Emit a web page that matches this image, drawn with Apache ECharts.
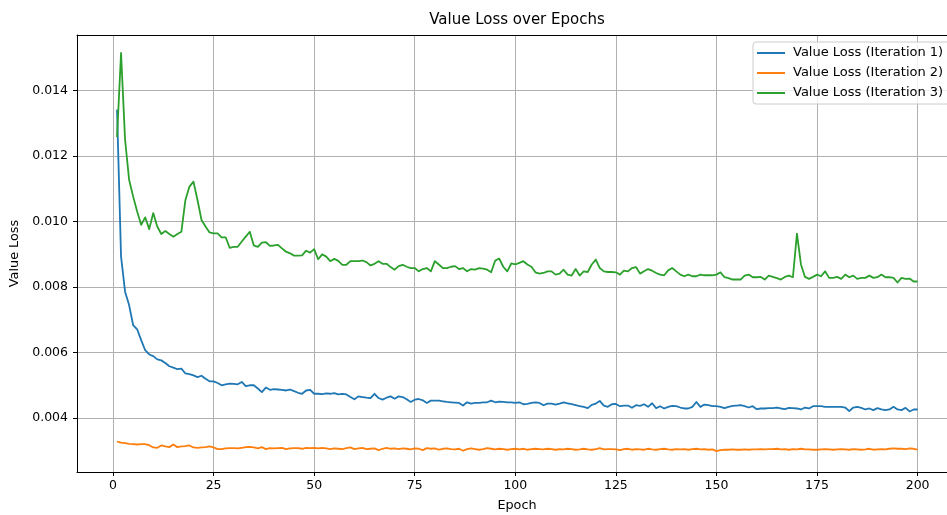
<!DOCTYPE html>
<html>
<head>
  <meta charset="utf-8">
  <title>Value Loss over Epochs</title>
  <script src="https://cdn.jsdelivr.net/npm/echarts@6/dist/echarts.min.js"></script>
</head>
<body style="margin:0;background:#fff;">
  <div id="chart" style="width: 947px; height: 515px;"></div>

  <script>
    // values
    const lossIter1 = [
      0.01342, 0.00893, 0.00786, 0.00745, 0.00684, 0.00671, 0.00638, 0.00607, 0.00594, 0.00589,
      0.00579, 0.00576, 0.00568, 0.00558, 0.00554, 0.00549, 0.00551, 0.00536, 0.00534, 0.00530,
      0.00525, 0.00529, 0.00520, 0.00512, 0.00512, 0.00507, 0.00500, 0.00503, 0.00505, 0.00504,
      0.00503, 0.00510, 0.00497, 0.00500, 0.00500, 0.00490, 0.00479, 0.00493, 0.00486, 0.00488,
      0.00487, 0.00486, 0.00484, 0.00487, 0.00482, 0.00477, 0.00474, 0.00484, 0.00486, 0.00474,
      0.00474, 0.00473, 0.00475, 0.00474, 0.00476, 0.00472, 0.00474, 0.00472, 0.00464, 0.00457,
      0.00466, 0.00464, 0.00462, 0.00461, 0.00474, 0.00461, 0.00456, 0.00462, 0.00466, 0.00459,
      0.00466, 0.00464, 0.00457, 0.00449, 0.00456, 0.00458, 0.00454, 0.00446, 0.00453, 0.00453,
      0.00453, 0.00451, 0.00449, 0.00448, 0.00447, 0.00446, 0.00438, 0.00448, 0.00444, 0.00446,
      0.00446, 0.00448, 0.00448, 0.00453, 0.00448, 0.00450, 0.00449, 0.00448, 0.00448, 0.00446,
      0.00448, 0.00442, 0.00443, 0.00446, 0.00448, 0.00446, 0.00439, 0.00444, 0.00444, 0.00441,
      0.00444, 0.00448, 0.00445, 0.00442, 0.00439, 0.00436, 0.00434, 0.00430, 0.00440, 0.00444,
      0.00452, 0.00438, 0.00434, 0.00442, 0.00443, 0.00436, 0.00438, 0.00438, 0.00431, 0.00439,
      0.00437, 0.00442, 0.00434, 0.00445, 0.00430, 0.00436, 0.00429, 0.00434, 0.00437, 0.00436,
      0.00432, 0.00429, 0.00429, 0.00434, 0.00449, 0.00434, 0.00441, 0.00439, 0.00436, 0.00436,
      0.00434, 0.00430, 0.00434, 0.00437, 0.00438, 0.00439, 0.00436, 0.00432, 0.00436, 0.00427,
      0.00429, 0.00429, 0.00430, 0.00430, 0.00432, 0.00429, 0.00427, 0.00431, 0.00430, 0.00429,
      0.00426, 0.00432, 0.00429, 0.00436, 0.00436, 0.00436, 0.00434, 0.00434, 0.00434, 0.00434,
      0.00434, 0.00432, 0.00421, 0.00432, 0.00434, 0.00431, 0.00426, 0.00429, 0.00424, 0.00430,
      0.00426, 0.00424, 0.00426, 0.00434, 0.00426, 0.00424, 0.00431, 0.00420, 0.00426, 0.00426
    ];
    const lossIter2 = [
      0.00328, 0.00325, 0.00323, 0.00321, 0.00320, 0.00319, 0.00320, 0.00320, 0.00317, 0.00310,
      0.00309, 0.00316, 0.00313, 0.00311, 0.00319, 0.00311, 0.00313, 0.00314, 0.00316, 0.00310,
      0.00309, 0.00310, 0.00311, 0.00313, 0.00310, 0.00305, 0.00305, 0.00307, 0.00308, 0.00308,
      0.00307, 0.00309, 0.00311, 0.00312, 0.00310, 0.00307, 0.00311, 0.00305, 0.00308, 0.00307,
      0.00308, 0.00309, 0.00305, 0.00307, 0.00308, 0.00308, 0.00306, 0.00309, 0.00308, 0.00309,
      0.00307, 0.00309, 0.00307, 0.00305, 0.00307, 0.00306, 0.00305, 0.00308, 0.00310, 0.00305,
      0.00307, 0.00309, 0.00305, 0.00306, 0.00307, 0.00302, 0.00306, 0.00309, 0.00306, 0.00307,
      0.00305, 0.00307, 0.00306, 0.00304, 0.00307, 0.00306, 0.00302, 0.00308, 0.00306, 0.00307,
      0.00303, 0.00306, 0.00307, 0.00305, 0.00304, 0.00306, 0.00300, 0.00305, 0.00307, 0.00305,
      0.00303, 0.00305, 0.00308, 0.00306, 0.00304, 0.00306, 0.00305, 0.00303, 0.00305, 0.00306,
      0.00304, 0.00306, 0.00303, 0.00305, 0.00306, 0.00305, 0.00304, 0.00306, 0.00305, 0.00303,
      0.00305, 0.00304, 0.00306, 0.00305, 0.00303, 0.00304, 0.00306, 0.00304, 0.00303, 0.00305,
      0.00308, 0.00304, 0.00305, 0.00305, 0.00304, 0.00302, 0.00305, 0.00306, 0.00303, 0.00305,
      0.00304, 0.00303, 0.00306, 0.00304, 0.00303, 0.00305, 0.00306, 0.00304, 0.00303, 0.00305,
      0.00304, 0.00305, 0.00303, 0.00305, 0.00306, 0.00304, 0.00305, 0.00303, 0.00304, 0.00299,
      0.00302, 0.00303, 0.00303, 0.00304, 0.00303, 0.00303, 0.00304, 0.00303, 0.00304, 0.00304,
      0.00305, 0.00304, 0.00305, 0.00305, 0.00306, 0.00304, 0.00305, 0.00303, 0.00305, 0.00304,
      0.00306, 0.00304, 0.00304, 0.00303, 0.00303, 0.00304, 0.00305, 0.00304, 0.00303, 0.00304,
      0.00305, 0.00304, 0.00303, 0.00305, 0.00304, 0.00303, 0.00304, 0.00306, 0.00303, 0.00304,
      0.00305, 0.00304, 0.00306, 0.00307, 0.00306, 0.00306, 0.00305, 0.00307, 0.00306, 0.00303
    ];
    const lossIter3 = [
      0.01258, 0.01515, 0.01250, 0.01128, 0.01077, 0.01031, 0.00990, 0.01013, 0.00977, 0.01026,
      0.00985, 0.00962, 0.00971, 0.00962, 0.00954, 0.00962, 0.00969, 0.01066, 0.01107, 0.01122,
      0.01066, 0.01005, 0.00985, 0.00967, 0.00964, 0.00964, 0.00952, 0.00952, 0.00920, 0.00923,
      0.00923, 0.00939, 0.00954, 0.00969, 0.00927, 0.00923, 0.00936, 0.00937, 0.00926, 0.00927,
      0.00929, 0.00918, 0.00908, 0.00903, 0.00896, 0.00896, 0.00897, 0.00911, 0.00905, 0.00916,
      0.00885, 0.00900, 0.00893, 0.00879, 0.00886, 0.00880, 0.00868, 0.00868, 0.00879, 0.00879,
      0.00879, 0.00881, 0.00876, 0.00866, 0.00871, 0.00879, 0.00871, 0.00871, 0.00861, 0.00853,
      0.00864, 0.00868, 0.00862, 0.00858, 0.00858, 0.00848, 0.00855, 0.00858, 0.00848, 0.00879,
      0.00869, 0.00858, 0.00858, 0.00862, 0.00864, 0.00855, 0.00858, 0.00848, 0.00855, 0.00853,
      0.00858, 0.00856, 0.00853, 0.00845, 0.00881, 0.00887, 0.00862, 0.00848, 0.00872, 0.00869,
      0.00874, 0.00879, 0.00869, 0.00862, 0.00845, 0.00841, 0.00843, 0.00848, 0.00848, 0.00838,
      0.00841, 0.00853, 0.00838, 0.00835, 0.00855, 0.00835, 0.00848, 0.00846, 0.00869, 0.00884,
      0.00858, 0.00848, 0.00846, 0.00846, 0.00845, 0.00838, 0.00850, 0.00848, 0.00858, 0.00861,
      0.00841, 0.00848, 0.00855, 0.00850, 0.00843, 0.00838, 0.00836, 0.00851, 0.00858, 0.00848,
      0.00838, 0.00833, 0.00838, 0.00833, 0.00833, 0.00838, 0.00836, 0.00836, 0.00836, 0.00838,
      0.00845, 0.00830, 0.00827, 0.00823, 0.00823, 0.00823, 0.00835, 0.00838, 0.00830, 0.00830,
      0.00831, 0.00823, 0.00835, 0.00831, 0.00827, 0.00823, 0.00831, 0.00835, 0.00830, 0.00963,
      0.00869, 0.00831, 0.00825, 0.00831, 0.00838, 0.00833, 0.00848, 0.00828, 0.00828, 0.00831,
      0.00825, 0.00838, 0.00830, 0.00835, 0.00825, 0.00828, 0.00828, 0.00835, 0.00828, 0.00830,
      0.00838, 0.00830, 0.00830, 0.00828, 0.00814, 0.00828, 0.00825, 0.00826, 0.00817, 0.00817
    ];
    const seriesNames = ['Value Loss (Iteration 1)', 'Value Loss (Iteration 2)', 'Value Loss (Iteration 3)'];
    const colors = ['#1f77b4', '#ff7f0e', '#2ca02c'];
    const xTicks = [0, 25, 50, 75, 100, 125, 150, 175, 200];
    const yTicks = [0.004, 0.006, 0.008, 0.010, 0.012, 0.014];

    const epochs = lossIter1.map((_, i) => i + 1);
    const font = 'DejaVu Sans';

    const chart = echarts.init(document.getElementById('chart'), null, { renderer: 'canvas' });

    const makeSeries = (name, values, color) => ({
      name: name,
      type: 'line',
      data: values.map((v, i) => [epochs[i], v]),
      showSymbol: false,
      symbol: 'none',
      lineStyle: { color: color, width: 1.8, join: 'round' },
      itemStyle: { color: color },
      emphasis: { disabled: true },
      animation: false
    });

    chart.setOption({
      animation: false,
      title: {
        text: 'Value Loss over Epochs',
        left: 517,
        textAlign: 'center',
        top: 13,
        padding: 0,
        textStyle: { fontFamily: font, fontSize: 15, fontWeight: 'normal', color: '#000' }
      },
      legend: {
        data: seriesNames,
        orient: 'vertical',
        left: 753,
        top: 42,
        padding: [4, 8, 4, 4],
        itemGap: 6,
        itemWidth: 28,
        itemHeight: 2,
        icon: 'rect',
        backgroundColor: 'rgba(255,255,255,0.8)',
        borderColor: '#cccccc',
        borderWidth: 1,
        borderRadius: 3,
        textStyle: { fontFamily: font, fontSize: 13, color: '#000', padding: [0, 0, 0, 3], lineHeight: 14 }
      },
      grid: { left: 77, right: 0, top: 35, bottom: 43, containLabel: false, outerBoundsMode: 'none' },
      xAxis: [
        {
          type: 'value',
          min: -8.95,
          max: 207.3,
          name: 'Epoch',
          nameLocation: 'middle',
          nameGap: 27,
          nameTextStyle: { fontFamily: font, fontSize: 12.8, color: '#000', padding: [0, 0, 0, 10] },
          axisLine: { show: true, onZero: false, lineStyle: { color: '#000', width: 1 } },
          axisTick: { show: true, inside: false, length: 4, customValues: xTicks, lineStyle: { color: '#000' } },
          axisLabel: { customValues: xTicks, margin: 7, fontFamily: font, fontSize: 12.5, color: '#000' },
          splitLine: { show: true, lineStyle: { color: '#b0b0b0', width: 1 } }
        },
        {
          type: 'value',
          position: 'top',
          min: -8.95,
          max: 207.3,
          axisLine: { show: true, onZero: false, lineStyle: { color: '#000', width: 1 } },
          axisTick: { show: false },
          axisLabel: { show: false },
          splitLine: { show: false }
        }
      ],
      yAxis: {
        type: 'value',
        min: 0.00235,
        max: 0.0157,
        name: 'Value Loss',
        nameLocation: 'middle',
        nameGap: 48,
        nameRotate: 90,
        nameTextStyle: { fontFamily: font, fontSize: 12.8, color: '#000' },
        axisLine: { show: true, onZero: false, lineStyle: { color: '#000', width: 1 } },
        axisTick: { show: true, inside: false, length: 4, customValues: yTicks, lineStyle: { color: '#000' } },
        axisLabel: {
          customValues: yTicks,
          margin: 9,
          fontFamily: font,
          fontSize: 12.5,
          color: '#000',
          formatter: v => v.toFixed(3)
        },
        splitLine: { show: true, lineStyle: { color: '#b0b0b0', width: 1 } }
      },
      series: [
        makeSeries(seriesNames[0], lossIter1, colors[0]),
        makeSeries(seriesNames[1], lossIter2, colors[1]),
        makeSeries(seriesNames[2], lossIter3, colors[2])
      ]
    });
  </script>
</body>
</html>
